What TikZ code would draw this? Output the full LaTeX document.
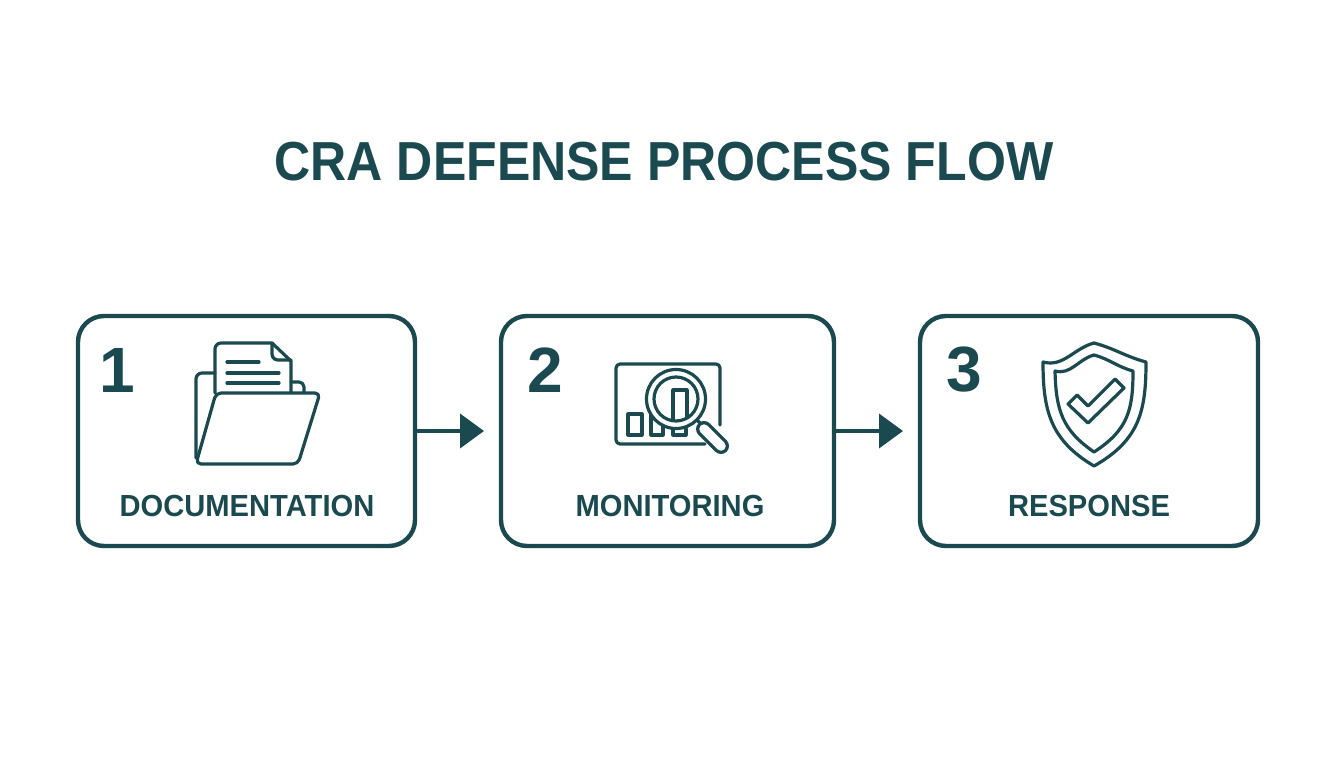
\documentclass[tikz,border=0pt]{standalone}
\usepackage{fontspec}
\setmainfont{Liberation Sans}
\newfontfamily\titlefont[FakeStretch=0.91]{Liberation Sans}
\newfontfamily\labelfont[FakeStretch=0.955]{Liberation Sans}
\usetikzlibrary{arrows.meta}
\definecolor{tealdark}{HTML}{1A4A50}

\tikzset{
  card/.style={draw=tealdark,line width=4.4pt,rounded corners=26pt,fill=white,inner sep=0pt,outer sep=0pt},
  icon/.style={draw=tealdark,line width=3.2pt,line join=round,line cap=round},
  flowarrow/.style={draw=tealdark,line width=4pt,-{Triangle[length=24pt,width=34pt]},shorten >=17pt},
  titletext/.style={text=tealdark,font=\titlefont\bfseries\fontsize{55}{55}\selectfont,inner sep=0pt},
  numtext/.style={text=tealdark,font=\bfseries\fontsize{64}{64}\selectfont,inner sep=0pt},
  labeltext/.style={text=tealdark,font=\labelfont\bfseries\fontsize{30.5}{30.5}\selectfont,inner sep=0pt}
}

\begin{document}
\begin{tikzpicture}[x=1pt,y=-1pt]

\newcommand{\stepcard}[5]{
  % box from x #2 to #3, number at #4
  \node[card,minimum width=#3-#2,minimum height=230pt] (#1) at ({(#2+#3)/2},431) {};
  \node[numtext] (#1num) at (#4,370) {#5};
}

\useasboundingbox (0,0) rectangle (1344,768);

\node[titletext] (title) at (664,162) {CRA DEFENSE PROCESS FLOW};

\stepcard{doc}{78}{415}{117}{1}
\stepcard{mon}{501}{834}{545}{2}
\stepcard{res}{920}{1258}{964}{3}

\node[labeltext] (doclabel) at (247,506) {DOCUMENTATION};
\node[labeltext] (monlabel) at (670,506) {MONITORING};
\node[labeltext] (reslabel) at (1089,506) {RESPONSE};

\draw[flowarrow] (doc) -- (mon);
\draw[flowarrow] (mon) -- (res);

% folder
\draw[icon] (215,373) -- (202,373) to[out=180,in=90] (196,379) -- (196,458);
\draw[icon] (215,393) -- (215,349) to[out=90,in=180] (221,343) -- (272,343) -- (291,361) -- (291,392);
\draw[icon] (272,344) -- (272,354) to[out=-90,in=180] (278,360) -- (291,360);
\draw[icon] (227,362) -- (259,362);
\draw[icon] (227,373) -- (279,373);
\draw[icon] (227,383) -- (279,383);
\draw[icon] (291,382) -- (299,382) to[out=0,in=90] (304,387) -- (304,392);
\draw[icon,rounded corners=5pt] (216,393) -- (320,393) -- (298,464) -- (196,464) -- cycle;

% magnifier over chart
\draw[icon,rounded corners=4pt] (705,444) -- (616,444) -- (616,364) -- (720,364) -- (720,425);
\draw[icon] (628,414) rectangle (642,435);
\draw[icon] (651,405) rectangle (663,435);
\draw[icon] (673,429) -- (673,435) -- (686,435) -- (686,429);
\draw[icon] (697,420) -- (704,427);
\draw[draw=tealdark,line width=16pt,line cap=round] (704,429) -- (721,446);
\draw[draw=white,line width=9.5pt,line cap=round] (704,429) -- (721,446);
\draw[icon,fill=white] (676,399) circle (29.5);
\draw[icon] (673,420) -- (673,390) -- (687,390) -- (687,417);
\draw[icon] (676,399) circle (22);

% shield
\draw[icon] (1094,343) to[out=-15,in=165] (1146,362) .. controls (1146,410) and (1140,440) .. (1094,466) .. controls (1050,440) and (1043,410) .. (1043,362) to[out=-15,in=195] cycle;
\draw[icon] (1094,355) to[out=-15,in=165] (1133,371) .. controls (1133,410) and (1128,430) .. (1094,452) .. controls (1062,430) and (1056,410) .. (1055,371) to[out=-15,in=195] cycle;
\draw[icon] (1077,395) -- (1088,406) -- (1115,379) -- (1124,388) -- (1088,423) -- (1068,404) -- cycle;

\end{tikzpicture}
\end{document}
